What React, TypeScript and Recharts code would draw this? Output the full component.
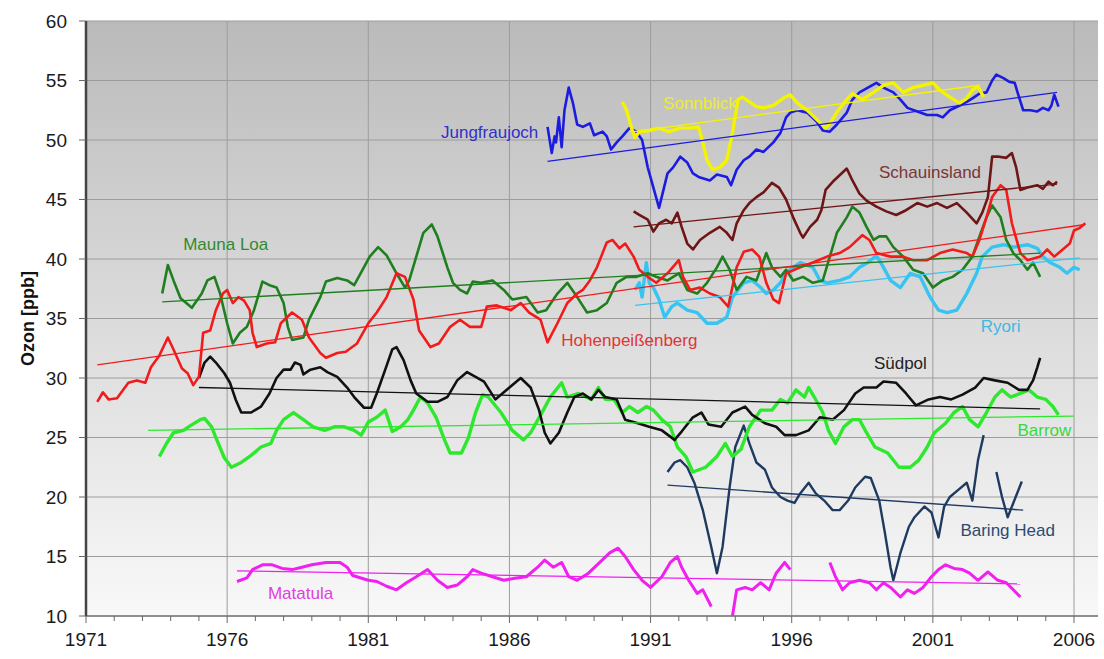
import React from "react";
import { LineChart, Line, XAxis, YAxis, CartesianGrid, ReferenceDot } from "recharts";

type Pt = [number, number | null];

// axis ticks
const yearTicks = [
  1971, 1972, 1973, 1974, 1975, 1976, 1977, 1978, 1979, 1980, 1981, 1982,
  1983, 1984, 1985, 1986, 1987, 1988, 1989, 1990, 1991, 1992, 1993, 1994,
  1995, 1996, 1997, 1998, 1999, 2000, 2001, 2002, 2003, 2004, 2005, 2006,
];
const majorYears = [1971, 1976, 1981, 1986, 1991, 1996, 2001, 2006];
const ozonTicks = [10, 15, 20, 25, 30, 35, 40, 45, 50, 55, 60];

// monthly-ish means: [year, ppb]
const hohenpeissenberg: Pt[] = [
  [1971.4, 28.0], [1971.6, 28.8], [1971.8, 28.2], [1972.1, 28.3], [1972.5, 29.6], [1972.8, 29.8],
  [1973.1, 29.6], [1973.3, 30.9], [1973.6, 31.9], [1973.9, 33.4], [1974.1, 32.4], [1974.4, 30.8],
  [1974.6, 30.4], [1974.8, 29.4], [1975.0, 30.1], [1975.15, 33.8], [1975.4, 34.0], [1975.6, 35.7],
  [1975.85, 37.1], [1976.0, 37.4], [1976.2, 36.3], [1976.4, 36.8], [1976.6, 36.5], [1976.8, 35.7],
  [1976.9, 33.8], [1977.05, 32.6], [1977.4, 32.9], [1977.7, 33.0], [1977.9, 34.6], [1978.3, 35.5],
  [1978.65, 34.9], [1978.9, 33.4], [1979.3, 32.1], [1979.5, 31.7], [1979.9, 32.1], [1980.2, 32.2],
  [1980.6, 32.9], [1981.0, 34.6], [1981.3, 35.5], [1981.65, 36.8], [1982.0, 38.8], [1982.3, 38.5],
  [1982.6, 36.6], [1982.8, 34.0], [1983.2, 32.6], [1983.5, 32.9], [1983.9, 34.3], [1984.25, 34.9],
  [1984.6, 34.3], [1985.0, 34.3], [1985.2, 36.0], [1985.55, 36.1], [1986.05, 35.7], [1986.4, 36.3],
  [1986.7, 35.5], [1987.1, 34.9], [1987.35, 33.0], [1987.7, 34.6], [1988.05, 36.3], [1988.4, 37.1],
  [1988.6, 37.4], [1988.85, 38.2], [1989.1, 39.3], [1989.45, 41.4], [1989.65, 41.6], [1989.9, 40.9],
  [1990.1, 41.3], [1990.4, 40.2], [1990.6, 39.1], [1990.9, 38.5], [1991.2, 38.0], [1991.6, 38.8],
  [1992.0, 39.9], [1992.15, 38.5], [1992.4, 37.4], [1992.75, 37.6], [1993.1, 37.1], [1993.45, 36.8],
  [1993.75, 36.0], [1994.05, 39.3], [1994.3, 40.6], [1994.6, 40.8], [1994.85, 40.2], [1995.1, 38.0],
  [1995.35, 36.6], [1995.55, 36.3], [1995.8, 38.8], [1996.3, 39.3], [1996.75, 39.7], [1997.25, 40.2],
  [1997.7, 40.5], [1998.05, 41.0], [1998.5, 42.0], [1998.75, 41.6], [1999.0, 40.5], [1999.5, 40.2],
  [1999.95, 40.2], [2000.3, 39.9], [2000.8, 39.9], [2001.25, 40.5], [2001.7, 40.8], [2002.2, 40.5],
  [2002.4, 40.2], [2002.65, 41.6], [2002.9, 43.5], [2003.1, 45.2], [2003.4, 46.2], [2003.6, 45.8],
  [2003.8, 43.0], [2004.1, 40.5], [2004.35, 39.9], [2004.8, 40.2], [2005.05, 40.8], [2005.3, 40.2],
  [2005.6, 40.8], [2005.85, 41.3], [2006.0, 42.4], [2006.2, 42.6], [2006.4, 43.0],
];

const maunaLoa: Pt[] = [
  [1973.7, 37.1], [1973.9, 39.5], [1974.1, 38.2], [1974.35, 36.7], [1974.75, 35.9], [1975.1, 37.1],
  [1975.3, 38.2], [1975.55, 38.5], [1975.75, 37.1], [1976.0, 34.6], [1976.2, 32.9], [1976.45, 33.8],
  [1976.7, 34.3], [1976.95, 35.7], [1977.25, 38.1], [1977.5, 37.8], [1977.75, 37.6], [1978.0, 36.3],
  [1978.15, 34.3], [1978.3, 33.2], [1978.7, 33.4], [1978.9, 34.9], [1979.3, 36.8], [1979.5, 38.1],
  [1979.9, 38.4], [1980.25, 38.2], [1980.5, 37.8], [1980.8, 39.1], [1981.05, 40.2], [1981.35, 41.0],
  [1981.65, 40.3], [1982.0, 38.8], [1982.3, 37.6], [1982.45, 38.2], [1982.7, 40.2], [1982.95, 42.2],
  [1983.25, 42.9], [1983.45, 41.9], [1983.8, 39.3], [1984.0, 38.0], [1984.25, 37.4], [1984.5, 37.1],
  [1984.7, 38.1], [1985.0, 38.0], [1985.4, 38.2], [1985.8, 37.4], [1986.1, 36.6], [1986.6, 36.8],
  [1987.0, 35.5], [1987.3, 35.7], [1987.7, 37.1], [1988.05, 38.0], [1988.4, 36.8], [1988.75, 35.5],
  [1989.1, 35.7], [1989.45, 36.3], [1989.8, 38.0], [1990.15, 38.5], [1990.5, 38.5], [1990.9, 38.8],
  [1991.2, 38.5], [1991.6, 38.2], [1992.0, 38.8], [1992.3, 37.4], [1992.65, 37.1], [1993.0, 38.0],
  [1993.35, 39.3], [1993.55, 40.2], [1993.8, 39.1], [1994.05, 37.4], [1994.4, 38.5], [1994.75, 38.2],
  [1995.1, 40.5], [1995.3, 39.3], [1995.6, 38.5], [1995.8, 39.1], [1996.05, 38.2], [1996.4, 38.5],
  [1996.75, 38.0], [1997.1, 38.2], [1997.35, 40.2], [1997.6, 42.2], [1997.95, 43.5], [1998.15, 44.4],
  [1998.4, 43.9], [1998.65, 42.7], [1998.9, 41.6], [1999.1, 41.9], [1999.35, 41.9], [1999.6, 41.0],
  [1999.95, 40.2], [2000.3, 39.1], [2000.65, 38.8], [2001.0, 37.6], [2001.35, 38.2], [2001.7, 38.5],
  [2002.05, 39.1], [2002.4, 40.2], [2002.65, 41.9], [2002.9, 43.5], [2003.1, 44.5], [2003.4, 43.5],
  [2003.6, 41.6], [2003.85, 40.5], [2004.1, 39.9], [2004.35, 39.1], [2004.55, 39.7], [2004.8, 38.5],
];

const jungfraujoch: Pt[] = [
  [1987.35, 51.1], [1987.5, 48.9], [1987.6, 50.3], [1987.65, 49.8], [1987.75, 51.9], [1987.85, 49.4],
  [1987.95, 52.5], [1988.1, 54.4], [1988.25, 53.1], [1988.4, 51.3], [1988.6, 51.1], [1988.85, 51.4],
  [1989.0, 50.4], [1989.3, 50.7], [1989.45, 50.3], [1989.6, 49.2], [1989.8, 49.8], [1990.0, 50.3],
  [1990.25, 51.0], [1990.5, 50.7], [1990.7, 50.0], [1990.9, 47.7], [1991.1, 46.0], [1991.3, 44.3],
  [1991.6, 47.2], [1991.8, 47.7], [1992.05, 48.6], [1992.3, 48.1], [1992.5, 47.2], [1992.7, 46.9],
  [1993.1, 46.6], [1993.35, 47.1], [1993.7, 46.9], [1993.85, 46.2], [1994.05, 47.5], [1994.3, 48.3],
  [1994.5, 48.6], [1994.75, 49.2], [1995.0, 49.0], [1995.35, 49.8], [1995.6, 50.6], [1995.8, 51.9],
  [1995.95, 52.3], [1996.2, 52.5], [1996.55, 52.3], [1996.9, 51.5], [1997.1, 50.8], [1997.35, 50.7],
  [1997.6, 51.3], [1997.95, 52.3], [1998.15, 53.4], [1998.4, 54.0], [1998.7, 54.4], [1999.0, 54.8],
  [1999.25, 54.4], [1999.6, 54.0], [1999.85, 53.4], [2000.1, 52.7], [2000.45, 52.4], [2000.8, 52.1],
  [2001.15, 52.1], [2001.35, 51.9], [2001.6, 52.5], [2001.95, 52.9], [2002.2, 53.2], [2002.4, 53.5],
  [2002.65, 53.9], [2002.9, 54.0], [2003.1, 55.0], [2003.25, 55.5], [2003.5, 55.2], [2003.7, 54.9],
  [2003.9, 54.8], [2004.0, 54.0], [2004.2, 52.5], [2004.45, 52.5], [2004.7, 52.4], [2004.9, 52.7],
  [2005.1, 52.5], [2005.2, 52.9], [2005.3, 53.8], [2005.45, 52.8],
];

const sonnblick: Pt[] = [
  [1990.0, 53.2], [1990.15, 52.5], [1990.35, 50.8], [1990.45, 50.2], [1990.6, 50.7], [1990.95, 50.8],
  [1991.3, 51.0], [1991.65, 50.7], [1992.05, 51.0], [1992.4, 51.0], [1992.7, 51.1], [1992.85, 49.8],
  [1993.0, 48.3], [1993.2, 47.5], [1993.45, 47.7], [1993.7, 48.3], [1993.9, 50.6], [1994.1, 53.4],
  [1994.25, 53.6], [1994.5, 53.2], [1994.75, 52.8], [1995.0, 52.7], [1995.35, 52.9], [1995.7, 53.5],
  [1995.95, 53.8], [1996.2, 53.1], [1996.55, 52.5], [1996.9, 51.7], [1997.2, 51.0], [1997.35, 51.4],
  [1997.65, 52.5], [1997.95, 53.4], [1998.15, 53.9], [1998.5, 53.4], [1998.9, 54.0], [1999.25, 54.6],
  [1999.6, 54.8], [1999.95, 54.0], [2000.3, 54.4], [2000.65, 54.6], [2001.0, 54.8], [2001.25, 54.2],
  [2001.6, 53.6], [2001.95, 53.1], [2002.2, 53.5], [2002.4, 54.2], [2002.6, 54.5], [2002.8, 53.6],
];

const schauinsland: Pt[] = [
  [1990.4, 44.0], [1990.6, 43.7], [1990.9, 43.3], [1991.1, 42.3], [1991.3, 43.0], [1991.55, 43.3],
  [1991.75, 43.0], [1991.95, 43.9], [1992.1, 42.7], [1992.3, 41.3], [1992.5, 40.8], [1992.75, 41.6],
  [1993.1, 42.2], [1993.45, 42.7], [1993.7, 42.2], [1993.9, 41.6], [1994.05, 43.0], [1994.3, 44.1],
  [1994.5, 44.7], [1994.75, 45.2], [1995.0, 45.6], [1995.3, 46.4], [1995.55, 46.0], [1995.8, 45.0],
  [1996.05, 43.5], [1996.3, 42.2], [1996.4, 41.8], [1996.65, 42.7], [1996.9, 43.3], [1997.05, 44.1],
  [1997.2, 45.8], [1997.5, 46.6], [1997.95, 47.6], [1998.15, 46.6], [1998.4, 45.5], [1998.65, 44.9],
  [1999.0, 44.4], [1999.35, 44.0], [1999.7, 43.7], [2000.05, 44.1], [2000.45, 44.7], [2000.8, 44.4],
  [2001.15, 44.7], [2001.5, 44.3], [2001.85, 44.7], [2002.2, 43.9], [2002.55, 43.0], [2002.75, 43.9],
  [2002.95, 45.2], [2003.1, 48.6], [2003.35, 48.6], [2003.6, 48.5], [2003.8, 48.9], [2003.95, 47.7],
  [2004.1, 45.8], [2004.35, 46.0], [2004.7, 46.2], [2004.9, 45.9], [2005.1, 46.5], [2005.25, 46.2],
  [2005.4, 46.5],
];

const ryori: Pt[] = [
  [1990.45, 37.4], [1990.6, 38.0], [1990.7, 36.8], [1990.85, 39.7], [1990.95, 38.0], [1991.1, 37.6],
  [1991.3, 36.6], [1991.5, 35.1], [1991.75, 36.0], [1991.95, 36.3], [1992.3, 35.7], [1992.65, 35.5],
  [1993.0, 34.6], [1993.35, 34.6], [1993.7, 35.1], [1993.9, 36.8], [1994.3, 38.0], [1994.6, 38.2],
  [1994.9, 37.6], [1995.1, 37.1], [1995.35, 37.4], [1995.6, 38.0], [1995.8, 38.8], [1996.05, 39.3],
  [1996.3, 39.7], [1996.75, 39.3], [1997.0, 38.2], [1997.25, 38.0], [1997.7, 38.2], [1998.05, 38.5],
  [1998.4, 39.3], [1998.7, 39.7], [1999.0, 40.3], [1999.25, 39.3], [1999.5, 38.2], [1999.85, 37.6],
  [2000.2, 38.8], [2000.55, 38.5], [2000.9, 36.8], [2001.2, 35.7], [2001.5, 35.5], [2001.85, 35.7],
  [2002.2, 37.1], [2002.55, 38.8], [2002.75, 40.2], [2003.1, 41.0], [2003.5, 41.2], [2003.85, 41.0],
  [2004.35, 41.2], [2004.7, 40.9], [2004.9, 40.2], [2005.15, 39.7], [2005.5, 39.3], [2005.75, 38.8],
  [2006.0, 39.3], [2006.2, 39.1],
];

const suedpol: Pt[] = [
  [1975.0, 30.0], [1975.2, 31.3], [1975.4, 31.8], [1975.6, 31.3], [1975.9, 30.4], [1976.1, 29.6],
  [1976.3, 28.2], [1976.5, 27.1], [1976.85, 27.1], [1977.2, 27.6], [1977.5, 28.7], [1977.75, 30.0],
  [1978.0, 30.7], [1978.25, 30.7], [1978.4, 31.3], [1978.6, 31.1], [1978.7, 30.3], [1978.95, 30.7],
  [1979.3, 30.9], [1979.55, 30.5], [1979.9, 30.1], [1980.25, 29.2], [1980.5, 28.4], [1980.85, 27.5],
  [1981.1, 27.5], [1981.3, 28.7], [1981.6, 30.7], [1981.85, 32.4], [1982.0, 32.6], [1982.25, 31.5],
  [1982.5, 29.8], [1982.7, 28.7], [1983.1, 28.0], [1983.45, 28.0], [1983.8, 28.4], [1984.15, 29.8],
  [1984.5, 30.5], [1984.8, 30.1], [1985.1, 29.7], [1985.5, 28.2], [1986.0, 29.2], [1986.4, 30.0],
  [1986.75, 29.2], [1987.05, 27.3], [1987.25, 25.4], [1987.45, 24.5], [1987.75, 25.4], [1988.05, 27.1],
  [1988.3, 28.4], [1988.6, 28.7], [1988.9, 28.2], [1989.15, 29.0], [1989.4, 28.4], [1989.8, 28.2],
  [1990.1, 26.5], [1990.55, 26.2], [1990.95, 25.9], [1991.4, 25.6], [1991.85, 24.8], [1992.1, 25.5],
  [1992.5, 26.7], [1992.8, 27.1], [1993.05, 26.1], [1993.5, 25.9], [1993.9, 27.1], [1994.35, 27.6],
  [1994.6, 26.9], [1995.05, 26.2], [1995.45, 25.9], [1995.75, 25.2], [1996.15, 25.2], [1996.6, 25.6],
  [1997.0, 26.7], [1997.45, 26.5], [1997.85, 27.3], [1998.25, 28.7], [1998.55, 29.2], [1999.0, 29.2],
  [1999.25, 29.7], [1999.7, 29.6], [2000.05, 28.7], [2000.4, 27.7], [2000.85, 28.2], [2001.25, 28.4],
  [2001.65, 28.2], [2002.05, 28.6], [2002.5, 29.2], [2002.8, 30.0], [2003.2, 29.8], [2003.65, 29.6],
  [2004.05, 29.0], [2004.35, 29.0], [2004.55, 29.8], [2004.7, 30.9], [2004.8, 31.7],
];

const barrow: Pt[] = [
  [1973.6, 23.4], [1973.85, 24.5], [1974.1, 25.4], [1974.45, 25.6], [1974.7, 26.0], [1975.05, 26.5],
  [1975.2, 26.6], [1975.45, 25.9], [1975.6, 25.0], [1975.9, 23.3], [1976.15, 22.5], [1976.5, 22.9],
  [1976.85, 23.5], [1977.2, 24.2], [1977.55, 24.5], [1977.75, 25.6], [1978.0, 26.5], [1978.35, 27.1],
  [1978.7, 26.5], [1979.05, 25.9], [1979.45, 25.6], [1979.8, 25.9], [1980.15, 25.9], [1980.5, 25.6],
  [1980.75, 25.2], [1981.0, 26.3], [1981.3, 26.7], [1981.6, 27.3], [1981.85, 25.5], [1982.15, 25.9],
  [1982.4, 26.5], [1982.6, 27.3], [1982.85, 28.4], [1983.1, 27.9], [1983.4, 26.7], [1983.7, 24.8],
  [1983.9, 23.7], [1984.3, 23.7], [1984.55, 25.0], [1984.8, 27.1], [1985.05, 28.6], [1985.25, 28.4],
  [1985.7, 27.1], [1986.1, 25.6], [1986.5, 24.8], [1986.75, 25.4], [1987.2, 27.3], [1987.45, 28.4],
  [1987.85, 29.6], [1988.05, 28.4], [1988.45, 28.7], [1988.9, 28.2], [1989.15, 29.2], [1989.4, 28.2],
  [1989.7, 28.2], [1990.0, 27.1], [1990.25, 27.6], [1990.55, 27.1], [1990.85, 27.6], [1991.1, 27.3],
  [1991.4, 26.5], [1991.7, 25.9], [1991.95, 24.2], [1992.25, 23.4], [1992.5, 22.1], [1992.95, 22.5],
  [1993.35, 23.4], [1993.65, 24.5], [1993.9, 23.4], [1994.2, 24.0], [1994.5, 25.9], [1994.9, 27.3],
  [1995.3, 27.3], [1995.6, 28.2], [1995.85, 27.9], [1996.15, 29.0], [1996.45, 28.4], [1996.6, 29.2],
  [1996.8, 28.4], [1997.1, 27.1], [1997.3, 25.6], [1997.55, 24.5], [1997.85, 25.9], [1998.15, 26.5],
  [1998.4, 26.5], [1998.65, 25.4], [1998.95, 24.2], [1999.4, 23.7], [1999.8, 22.5], [2000.2, 22.5],
  [2000.5, 23.1], [2000.8, 24.2], [2001.05, 25.4], [2001.45, 26.2], [2001.75, 27.1], [2002.05, 27.6],
  [2002.3, 26.5], [2002.6, 25.9], [2002.9, 27.1], [2003.2, 28.4], [2003.45, 29.0], [2003.75, 28.4],
  [2004.1, 28.7], [2004.4, 29.0], [2004.7, 28.4], [2005.0, 28.2], [2005.25, 27.6], [2005.45, 26.9],
];

const baringHead: Pt[] = [
  [1991.6, 22.1], [1991.85, 22.9], [1992.05, 23.1], [1992.3, 22.5], [1992.55, 21.2], [1992.85, 18.9],
  [1993.15, 15.8], [1993.35, 13.6], [1993.55, 15.8], [1993.8, 20.8], [1994.0, 24.2], [1994.3, 26.0],
  [1994.5, 24.5], [1994.75, 22.9], [1995.05, 22.3], [1995.3, 20.8], [1995.6, 20.0], [1995.85, 19.7],
  [1996.1, 19.5], [1996.3, 20.3], [1996.6, 21.2], [1996.85, 20.3], [1997.15, 19.7], [1997.45, 18.9],
  [1997.7, 18.9], [1998.0, 19.7], [1998.25, 20.8], [1998.6, 21.7], [1998.8, 21.6], [1999.1, 19.7],
  [1999.3, 17.0], [1999.5, 14.1], [1999.6, 13.0], [1999.85, 15.3], [2000.15, 17.5], [2000.35, 18.3],
  [2000.7, 19.2], [2000.95, 18.7], [2001.2, 16.6], [2001.4, 19.2], [2001.6, 20.0], [2001.9, 20.6],
  [2002.2, 21.2], [2002.4, 19.7], [2002.6, 23.1], [2002.8, 25.2],
  [2003.0, null],
  [2003.25, 22.1], [2003.45, 20.0], [2003.65, 18.3], [2003.85, 19.5], [2004.15, 21.3],
];

const matatula: Pt[] = [
  [1976.35, 12.9], [1976.7, 13.2], [1976.9, 13.9], [1977.25, 14.3], [1977.6, 14.3], [1977.95, 14.0],
  [1978.3, 13.9], [1978.65, 14.1], [1979.0, 14.3], [1979.5, 14.5], [1980.0, 14.5], [1980.25, 14.1],
  [1980.45, 13.4], [1981.0, 13.0], [1981.3, 12.9], [1981.65, 12.5], [1982.0, 12.2], [1982.35, 12.8],
  [1982.7, 13.3], [1983.1, 13.9], [1983.45, 13.0], [1983.8, 12.4], [1984.15, 12.6], [1984.5, 13.3],
  [1984.7, 13.9], [1985.0, 13.6], [1985.4, 13.3], [1985.8, 13.0], [1986.25, 13.2], [1986.6, 13.3],
  [1987.0, 14.1], [1987.25, 14.7], [1987.55, 14.1], [1987.85, 14.5], [1988.1, 13.3], [1988.4, 13.0],
  [1988.8, 13.6], [1989.2, 14.5], [1989.55, 15.3], [1989.85, 15.7], [1990.1, 15.0], [1990.4, 13.9],
  [1990.7, 13.0], [1991.0, 12.4], [1991.4, 13.3], [1991.7, 14.5], [1991.95, 15.0], [1992.1, 14.1],
  [1992.35, 13.0], [1992.65, 11.9], [1992.85, 12.2], [1993.15, 10.8],
  [1993.5, null],
  [1993.9, 10.0], [1994.05, 12.2], [1994.35, 12.4], [1994.6, 12.2], [1994.9, 12.8], [1995.2, 12.2],
  [1995.45, 13.6], [1995.75, 14.5], [1995.95, 13.9],
  [1996.6, null],
  [1997.35, 14.5], [1997.55, 13.3], [1997.8, 12.2], [1998.05, 12.8], [1998.4, 13.0], [1998.75, 12.8],
  [1999.0, 12.2], [1999.25, 12.8], [1999.5, 12.4], [1999.85, 11.6], [2000.1, 12.2], [2000.35, 11.9],
  [2000.65, 12.4], [2000.95, 13.3], [2001.2, 13.9], [2001.45, 14.3], [2001.75, 14.0], [2002.05, 13.9],
  [2002.3, 13.6], [2002.6, 13.0], [2002.95, 13.7], [2003.3, 13.0], [2003.6, 12.8], [2003.85, 12.2],
  [2004.1, 11.6],
];

// linear trends (start, end)
const jungfraujochTrend: Pt[] = [[1987.35, 48.2], [2005.4, 54.0]];
const sonnblickTrend: Pt[] = [[1990.4, 50.7], [2002.65, 54.6]];
const schauinslandTrend: Pt[] = [[1990.4, 42.7], [2005.4, 46.3]];
const maunaLoaTrend: Pt[] = [[1973.7, 36.4], [2004.8, 40.5]];
const hohenTrend: Pt[] = [[1971.4, 31.1], [2006.4, 42.9]];
const ryoriTrend: Pt[] = [[1990.45, 36.1], [2006.2, 40.1]];
const suedpolTrend: Pt[] = [[1975.0, 29.2], [2004.8, 27.4]];
const barrowTrend: Pt[] = [[1973.2, 25.6], [2006.0, 26.8]];
const baringTrend: Pt[] = [[1991.6, 21.0], [2004.2, 18.9]];
const matatulaTrend: Pt[] = [[1976.35, 13.8], [2004.1, 12.7]];

const rows = (pts: Pt[]) => pts.map(([x, v]) => ({ x, v }));

const stations = [
  { name: "Matatula", data: matatula, trend: matatulaTrend, color: "#f020f0", text: "#e040e0", w: 3, at: [1978.6, 11.9] },
  { name: "Baring Head", data: baringHead, trend: baringTrend, color: "#1f3a60", text: "#2e4a70", w: 2.4, at: [2003.65, 17.2] },
  { name: "Barrow", data: barrow, trend: barrowTrend, color: "#2ee82e", text: "#3ad83a", w: 3.4, at: [2004.95, 25.6] },
  { name: "Südpol", data: suedpol, trend: suedpolTrend, color: "#111111", text: "#222222", w: 2.6, at: [1999.85, 31.3] },
  { name: "Ryori", data: ryori, trend: ryoriTrend, color: "#38c4f0", text: "#40b8e0", w: 3.4, at: [2003.4, 34.4] },
  { name: "Mauna Loa", data: maunaLoa, trend: maunaLoaTrend, color: "#1f7f1f", text: "#2f8a2f", w: 2.6, at: [1975.95, 41.3] },
  { name: "Hohenpeißenberg", data: hohenpeissenberg, trend: hohenTrend, color: "#f21b1b", text: "#e03535", w: 2.6, at: [1990.25, 33.2] },
  { name: "Schauinsland", data: schauinsland, trend: schauinslandTrend, color: "#6e1616", text: "#7a3535", w: 2.6, at: [2000.9, 47.3] },
  { name: "Jungfraujoch", data: jungfraujoch, trend: jungfraujochTrend, color: "#1c1ce0", text: "#3030c8", w: 2.6, at: [1985.3, 50.7] },
  { name: "Sonnblick", data: sonnblick, trend: sonnblickTrend, color: "#f4f400", text: "#ecec30", w: 3.4, at: [1992.75, 53.1] },
];

const FONT = "'Liberation Sans', Arial, sans-serif";

function YearTick({ x, y, payload }: any) {
  const major = majorYears.includes(payload.value);
  return (
    <g>
      <line x1={x} y1={y} x2={x} y2={y + (major ? 7 : 5)} stroke="#666" strokeWidth={1} />
      {major && (
        <text x={x} y={y + 30} textAnchor="middle" fill="#1a1a1a" fontSize={19} fontFamily={FONT}>
          {payload.value}
        </text>
      )}
    </g>
  );
}

function OzonLabel({ viewBox }: any) {
  const cx = viewBox.x + 28;
  const cy = viewBox.y + viewBox.height / 2;
  return (
    <text
      x={cx}
      y={cy}
      transform={`rotate(-90 ${cx} ${cy})`}
      textAnchor="middle"
      dominantBaseline="central"
      fontSize={18}
      fontWeight="bold"
      fontFamily={FONT}
      fill="#111"
    >
      Ozon [ppb]
    </text>
  );
}

export default function App() {
  const domainX: [number, number] = [1971, 2006.85];
  return (
    <div style={{ position: "absolute", left: 0, top: 0, width: 1104, height: 659, background: "#fff" }}>
      <LineChart width={1104} height={659} margin={{ top: 21, right: 6, left: 0, bottom: 0 }}>
        <defs>
          <linearGradient id="plotBg" x1="0" y1="0" x2="0" y2="1">
            <stop offset="0%" stopColor="#bababa" />
            <stop offset="45%" stopColor="#d8d8d8" />
            <stop offset="100%" stopColor="#f8f8f8" />
          </linearGradient>
        </defs>
        <CartesianGrid
          fill="url(#plotBg)"
          fillOpacity={1}
          stroke="#9c9c9c"
          strokeWidth={1}
          verticalValues={majorYears}
        />
        <XAxis
          dataKey="x"
          type="number"
          domain={domainX}
          ticks={yearTicks}
          interval={0}
          allowDataOverflow
          height={43}
          tickSize={0}
          tickMargin={0}
          tickLine={false}
          tick={<YearTick />}
          axisLine={{ stroke: "#7a7a7a", strokeWidth: 1.5 }}
        />
        <XAxis
          xAxisId="top"
          orientation="top"
          dataKey="x"
          type="number"
          domain={domainX}
          height={0}
          tick={false}
          tickLine={false}
          axisLine={{ stroke: "#555", strokeWidth: 2 }}
        />
        <YAxis
          type="number"
          domain={[10, 60]}
          ticks={ozonTicks}
          interval={0}
          allowDataOverflow
          width={86}
          tickSize={7}
          tickMargin={12}
          tickLine={{ stroke: "#666" }}
          tick={{ fill: "#1a1a1a", fontSize: 19, fontFamily: FONT }}
          axisLine={{ stroke: "#444", strokeWidth: 2.5 }}
          label={{ content: <OzonLabel /> }}
        />
        <YAxis
          yAxisId="right"
          orientation="right"
          type="number"
          domain={[10, 60]}
          width={0}
          tick={false}
          tickLine={false}
          axisLine={{ stroke: "#666", strokeWidth: 1.5 }}
        />
        {stations.map((s) => (
          <Line
            key={s.name}
            data={rows(s.data)}
            dataKey="v"
            type="linear"
            stroke={s.color}
            strokeWidth={s.w}
            strokeLinejoin="round"
            dot={false}
            activeDot={false}
            connectNulls={false}
            isAnimationActive={false}
          />
        ))}
        {stations.map((s) => (
          <Line
            key={s.name + "-trend"}
            data={rows(s.trend)}
            dataKey="v"
            type="linear"
            stroke={s.color}
            strokeWidth={1.3}
            dot={false}
            activeDot={false}
            isAnimationActive={false}
          />
        ))}
        {stations.map((s) => (
          <ReferenceDot
            key={s.name + "-label"}
            x={s.at[0]}
            y={s.at[1]}
            r={0}
            fill="none"
            stroke="none"
            label={{ value: s.name, position: "center", fill: s.text, fontSize: 17, fontFamily: FONT }}
          />
        ))}
      </LineChart>
    </div>
  );
}
